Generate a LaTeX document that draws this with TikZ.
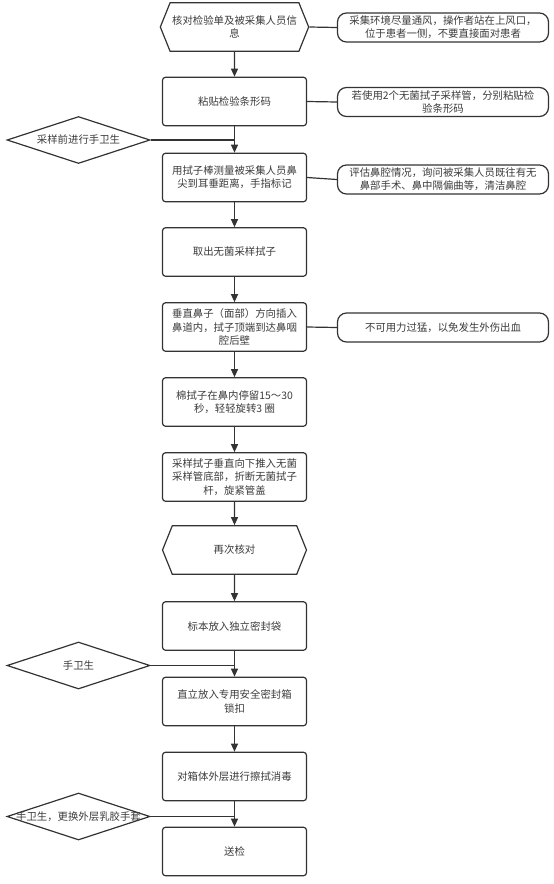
\documentclass[tikz,border=0pt]{standalone}
\usepackage{fontspec}
\setmainfont{Noto Sans CJK SC}
\usepackage{xcolor}
\usepackage{tikz}
\usetikzlibrary{shapes.geometric,shapes.symbols,arrows.meta}
\definecolor{SwabLine}{HTML}{333333}
\definecolor{SwabText}{HTML}{3C3C3C}
\newcommand\swabfont{\fontsize{10.4}{13.3}\selectfont}
\tikzset{
  stepbox/.style={draw=SwabLine,line width=1.2pt,fill=white,rounded corners=3pt,
    minimum width=144pt,minimum height=48.5pt,inner sep=2pt,align=center,
    text=SwabText,font=\swabfont},
  checkbox/.style={signal,signal to=west and east,signal pointer angle=136,
    draw=SwabLine,line width=1.2pt,fill=white,minimum width=144pt,minimum height=48.5pt,
    inner sep=2pt,align=center,text=SwabText,font=\swabfont},
  notebox/.style={draw=SwabLine,line width=1.2pt,fill=white,rounded corners=9pt,
    minimum width=211pt,minimum height=29pt,inner sep=2pt,align=center,
    text=SwabText,font=\swabfont},
  handbox/.style={diamond,draw=SwabLine,line width=1.2pt,fill=white,
    minimum width=143pt,minimum height=47pt,inner sep=0pt},
  handtext/.style={font=\swabfont,text=SwabText},
  flowline/.style={draw=SwabLine,line width=1.2pt},
  flowarrow/.style={flowline,-{Triangle[length=8pt,width=7pt]}},
}

\begin{document}
\begin{tikzpicture}[x=1pt,y=-1pt]
\path[use as bounding box] (0,0) rectangle (554,884);
% main column
\node[checkbox] (check1) at (234.5,27) {核对检验单及被采集人员信\\息};
\node[stepbox] (label) at (234.5,101.5) {粘贴检验条形码};
\node[stepbox] (measure) at (234.5,177.5) {用拭子棒测量被采集人员鼻\\尖到耳垂距离，手指标记};
\node[stepbox] (takeswab) at (234.5,252) {取出无菌采样拭子};
\node[stepbox] (insert) at (234.5,327) {垂直鼻子（面部）方向插入\\鼻道内，拭子顶端到达鼻咽\\腔后壁};
\node[stepbox] (rotate) at (234.5,402) {棉拭子在鼻内停留15～30\\秒，轻轻旋转3 圈};
\node[stepbox] (breakoff) at (234.5,477) {采样拭子垂直向下推入无菌\\采样管底部，折断无菌拭子\\杆，旋紧管盖};
\node[checkbox] (check2) at (234.5,550) {再次核对};
\node[stepbox] (bag) at (234.5,626) {标本放入独立密封袋};
\node[stepbox] (box) at (234.5,701.5) {直立放入专用安全密封箱\\锁扣};
\node[stepbox] (disinfect) at (234.5,776.5) {对箱体外层进行擦拭消毒};
\node[stepbox] (send) at (234.5,851.5) {送检};
% side notes
\node[notebox] (note1) at (443,27.5) {采集环境尽量通风，操作者站在上风口，\\位于患者一侧，不要直接面对患者};
\node[notebox] (note2) at (443,102) {若使用2个无菌拭子采样管，分别粘贴检\\验条形码};
\node[notebox] (note3) at (443,179.5) {评估鼻腔情况，询问被采集人员既往有无\\鼻部手术、鼻中隔偏曲等，清洁鼻腔};
\node[notebox] (note4) at (443,327.5) {不可用力过猛，以免发生外伤出血};
% hand hygiene
\node[handbox,label={[handtext]center:采样前进行手卫生}] (hand1) at (78.5,140) {};
\node[handbox,label={[handtext]center:手卫生}] (hand2) at (78.5,665.5) {};
\node[handbox,label={[handtext]center:手卫生，更换外层乳胶手套}] (hand3) at (78.5,816.5) {};

\draw[flowarrow] (check1) -- (label);
\draw[flowarrow] (label) -- (measure);
\draw[flowarrow] (measure) -- (takeswab);
\draw[flowarrow] (takeswab) -- (insert);
\draw[flowarrow] (insert) -- (rotate);
\draw[flowarrow] (rotate) -- (breakoff);
\draw[flowarrow] (breakoff) -- (check2);
\draw[flowarrow] (check2) -- (bag);
\draw[flowarrow] (bag) -- (box);
\draw[flowarrow] (box) -- (disinfect);
\draw[flowarrow] (disinfect) -- (send);

\draw[flowline] (check1.east) -- (note1.west);
\draw[flowline] (label.east) -- (note2.west);
\draw[flowline] (measure.east) -- (note3.west);
\draw[flowline] (insert.east) -- (note4.west);

\draw[flowline] (hand1.east) -- (hand1.east -| label.south);
\draw[flowline] (hand2.east) -- (hand2.east -| bag.south);
\draw[flowline] (hand3.east) -- (hand3.east -| disinfect.south);
\end{tikzpicture}
\end{document}
